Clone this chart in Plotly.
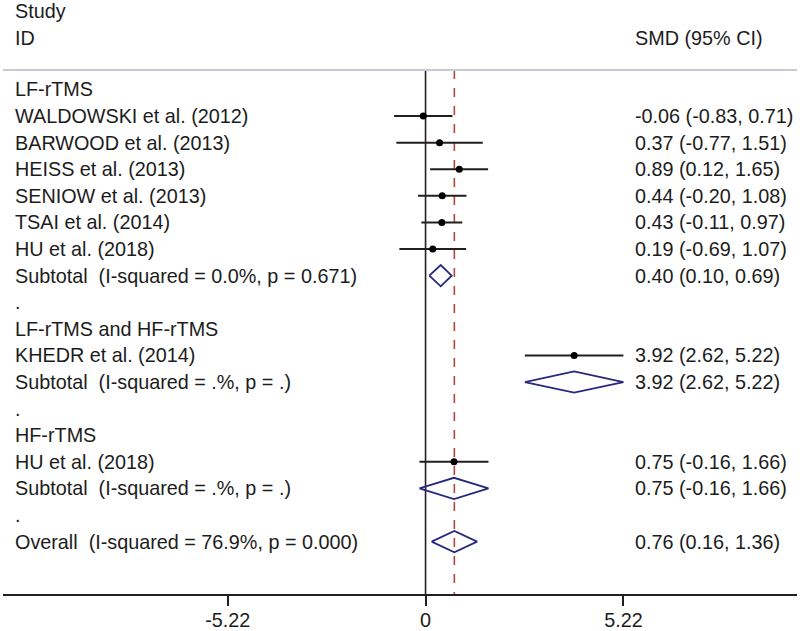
import plotly.graph_objects as go

# --- data --------------------------------------------------------------------
row_labels = [
    "LF-rTMS",
    "WALDOWSKI et al. (2012)",
    "BARWOOD et al. (2013)",
    "HEISS et al. (2013)",
    "SENIOW et al. (2013)",
    "TSAI et al. (2014)",
    "HU et al. (2018)",
    "Subtotal  (I-squared = 0.0%, p = 0.671)",
    ".",
    "LF-rTMS and HF-rTMS",
    "KHEDR et al. (2014)",
    "Subtotal  (I-squared = .%, p = .)",
    ".",
    "HF-rTMS",
    "HU et al. (2018)",
    "Subtotal  (I-squared = .%, p = .)",
    ".",
    "Overall  (I-squared = 76.9%, p = 0.000)",
]

study_rows = [1, 2, 3, 4, 5, 6, 10, 14]
study_smd = [-0.06, 0.37, 0.89, 0.44, 0.43, 0.19, 3.92, 0.75]
study_lo = [-0.83, -0.77, 0.12, -0.20, -0.11, -0.69, 2.62, -0.16]
study_hi = [0.71, 1.51, 1.65, 1.08, 0.97, 1.07, 5.22, 1.66]

pooled_rows = [7, 11, 15, 17]
pooled_smd = [0.40, 3.92, 0.75, 0.76]
pooled_lo = [0.10, 2.62, -0.16, 0.16]
pooled_hi = [0.69, 5.22, 1.66, 1.36]

overall_smd = 0.76
tick_vals = [-5.22, 0, 5.22]
tick_text = ["-5.22", "0", "5.22"]

# --- style -------------------------------------------------------------------
FONT = "Liberation Sans, Arial, sans-serif"
TEXT = "#1c1c1c"
LINE = "#231f1e"
NAVY = "#28287f"
RED = "#b3473c"
GREY = "#c6cad4"
FS = 19.8
HALF_H = 0.4  # diamond half height in row units
HEAD_Y = -0.733  # row position of the header rule
BOTTOM_Y = 18.97

fig = go.Figure()

# study estimates with CIs
fig.add_trace(
    go.Scatter(
        x=study_smd,
        y=study_rows,
        mode="markers",
        marker=dict(color="black", size=7),
        error_x=dict(
            type="data",
            symmetric=False,
            array=[h - e for h, e in zip(study_hi, study_smd)],
            arrayminus=[e - l for e, l in zip(study_smd, study_lo)],
            color=LINE,
            thickness=2,
            width=0,
        ),
        hoverinfo="skip",
    )
)

# pooled diamonds
for r, e, l, h in zip(pooled_rows, pooled_smd, pooled_lo, pooled_hi):
    fig.add_trace(
        go.Scatter(
            x=[l, e, h, e, l],
            y=[r, r - HALF_H, r, r + HALF_H, r],
            mode="lines",
            line=dict(color=NAVY, width=1.8),
            hoverinfo="skip",
        )
    )

# null line and overall effect line
fig.add_shape(type="line", xref="x", yref="y", x0=0, x1=0, y0=HEAD_Y, y1=BOTTOM_Y,
              line=dict(color=LINE, width=1.6), layer="below")
fig.add_shape(type="line", xref="x", yref="y", x0=overall_smd, x1=overall_smd,
              y0=HEAD_Y, y1=BOTTOM_Y, line=dict(color=RED, width=1.6, dash="dash"), layer="below")
# header rule
fig.add_shape(type="line", xref="paper", yref="y", x0=0, x1=1, y0=HEAD_Y, y1=HEAD_Y,
              line=dict(color=GREY, width=2))


def label(text, x, y):
    fig.add_annotation(
        text=text.replace("  ", "\u00a0 "),
        xref="paper", yref="y", x=x, y=y,
        xanchor="left", yanchor="middle", showarrow=False,
        font=dict(family=FONT, size=FS, color=TEXT),
    )


label("Study", 0.012, -2.95)
label("ID", 0.012, -1.95)
label("SMD (95% CI)", 0.793, -1.95)

for i, t in enumerate(row_labels):
    label(t, 0.012, i)

for r, e, l, h in zip(study_rows + pooled_rows, study_smd + pooled_smd,
                      study_lo + pooled_lo, study_hi + pooled_hi):
    label(f"{e:.2f} ({l:.2f}, {h:.2f})", 0.793, r)

fig.update_layout(
    width=800,
    height=631,
    margin=dict(l=3, r=3, t=0, b=37),
    paper_bgcolor="white",
    plot_bgcolor="white",
    showlegend=False,
    xaxis=dict(
        range=[-11.148, 9.80],
        showgrid=False,
        zeroline=False,
        showline=True,
        linecolor=LINE,
        linewidth=1.6,
        ticks="outside",
        ticklen=10,
        tickwidth=1.6,
        tickcolor=LINE,
        tickvals=tick_vals,
        ticktext=tick_text,
        ticklabelstandoff=-3,
        tickfont=dict(family=FONT, size=FS, color=TEXT),
        automargin=False,
        fixedrange=True,
    ),
    yaxis=dict(
        range=[BOTTOM_Y, -3.365],
        visible=False,
        showgrid=False,
        zeroline=False,
        automargin=False,
        fixedrange=True,
    ),
)

# the page body has a default 8px margin; drop it so the figure fills the window
fig.write_html(
    "out.html",
    config={"displayModeBar": False},
    post_script="document.body.style.margin='0';",
)
